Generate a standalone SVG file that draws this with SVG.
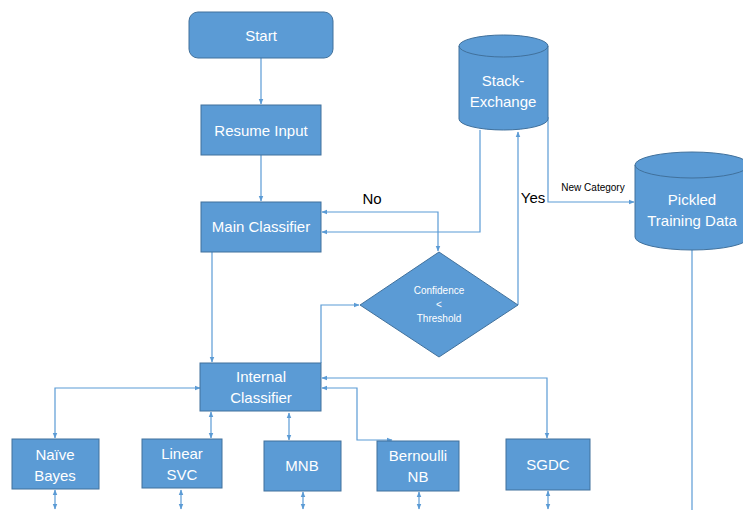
<svg xmlns="http://www.w3.org/2000/svg" width="743" height="510" viewBox="0 0 743 510">
<defs>
<marker id="ah" viewBox="0 0 10 10" refX="9" refY="5" markerWidth="6" markerHeight="6" orient="auto-start-reverse" markerUnits="userSpaceOnUse">
<path d="M0,1 L10,5 L0,9 z" fill="#5B9BD5"/>
</marker>
<style>
.n{fill:#5B9BD5;stroke:#41719C;stroke-width:1}
.rim{fill:none;stroke:#41719C;stroke-width:1}
.t{fill:#fff;font-family:"Liberation Sans",Arial,sans-serif;font-size:15px;text-anchor:middle}
.s{fill:#fff;font-family:"Liberation Sans",Arial,sans-serif;font-size:10px;text-anchor:middle}
.l{fill:#000;font-family:"Liberation Sans",Arial,sans-serif;font-size:15px;text-anchor:middle}
.ls{fill:#000;font-family:"Liberation Sans",Arial,sans-serif;font-size:10px;text-anchor:middle}
.c{fill:none;stroke:#5B9BD5;stroke-width:1.2}
</style>
</defs>
<rect width="743" height="510" fill="#fff"/>
<g id="connectors">
<path class="c" d="M261,58 V104" marker-end="url(#ah)"/>
<path class="c" d="M261,155 V201" marker-end="url(#ah)"/>
<path class="c" d="M322,212 H438 V251" marker-start="url(#ah)" marker-end="url(#ah)"/>
<path class="c" d="M480,130 V232 H322" marker-end="url(#ah)"/>
<path class="c" d="M518,305 V132" marker-end="url(#ah)"/>
<path class="c" d="M548,117 V202 H634" marker-end="url(#ah)"/>
<path class="c" d="M692,250 V510"/>
<path class="c" d="M212,252 V362" marker-end="url(#ah)"/>
<path class="c" d="M321,363 V305 H359" marker-end="url(#ah)"/>
<path class="c" d="M200,388 H55 V438" marker-start="url(#ah)" marker-end="url(#ah)"/>
<path class="c" d="M211,412 V438" marker-start="url(#ah)" marker-end="url(#ah)"/>
<path class="c" d="M289,413 V440" marker-start="url(#ah)" marker-end="url(#ah)"/>
<path class="c" d="M322,388 H357 V440 H392" marker-start="url(#ah)" marker-end="url(#ah)"/>
<path class="c" d="M322,378 H547 V438" marker-start="url(#ah)" marker-end="url(#ah)"/>
<path class="c" d="M55,490 V509" marker-start="url(#ah)" marker-end="url(#ah)"/>
<path class="c" d="M181,490 V509" marker-start="url(#ah)" marker-end="url(#ah)"/>
<path class="c" d="M303,492 V509" marker-start="url(#ah)" marker-end="url(#ah)"/>
<path class="c" d="M419,492 V509" marker-start="url(#ah)" marker-end="url(#ah)"/>
<path class="c" d="M548,491 V509" marker-start="url(#ah)" marker-end="url(#ah)"/>
<text class="l" x="372" y="204">No</text>
<text class="l" x="533" y="203">Yes</text>
<text class="ls" x="593" y="191">New Category</text>
</g>
<g id="start">
<rect class="n" x="189" y="12" width="144" height="46" rx="9"/>
<text class="t" x="261" y="41">Start</text>
</g>
<g id="resume-input">
<rect class="n" x="201" y="105" width="120" height="50"/>
<text class="t" x="261" y="136">Resume Input</text>
</g>
<g id="main-classifier">
<rect class="n" x="201" y="202" width="120" height="50"/>
<text class="t" x="261" y="232">Main Classifier</text>
</g>
<g id="decision">
<path class="n" d="M439,252 L518,305 L439,357 L360,305 Z"/>
<text class="s" x="439" y="294">Confidence</text>
<text class="s" x="439" y="308">&lt;</text>
<text class="s" x="439" y="322">Threshold</text>
</g>
<g id="stack-exchange">
<path class="n" d="M459,46 A44.5,11 0 0 1 548,46 V119 A44.5,11 0 0 1 459,119 Z"/>
<path class="rim" d="M459,46 A44.5,11 0 0 0 548,46"/>
<text class="t" x="503" y="86">Stack-</text>
<text class="t" x="503" y="107">Exchange</text>
</g>
<g id="pickled-training-data">
<path class="n" d="M635,165 A57,13 0 0 1 749,165 V237 A57,13 0 0 1 635,237 Z"/>
<path class="rim" d="M635,165 A57,13 0 0 0 749,165"/>
<text class="t" x="692" y="205">Pickled</text>
<text class="t" x="692" y="226">Training Data</text>
</g>
<g id="internal-classifier">
<rect class="n" x="200" y="363" width="121" height="48"/>
<text class="t" x="261" y="382">Internal</text>
<text class="t" x="261" y="403">Classifier</text>
</g>
<g id="naive-bayes">
<rect class="n" x="12" y="439" width="87" height="50"/>
<text class="t" x="55" y="460">Naïve</text>
<text class="t" x="55" y="481">Bayes</text>
</g>
<g id="linear-svc">
<rect class="n" x="142" y="439" width="80" height="49"/>
<text class="t" x="182" y="459">Linear</text>
<text class="t" x="182" y="480">SVC</text>
</g>
<g id="mnb">
<rect class="n" x="264" y="441" width="77" height="50"/>
<text class="t" x="302" y="471">MNB</text>
</g>
<g id="bernoulli-nb">
<rect class="n" x="377" y="441" width="82" height="50"/>
<text class="t" x="418" y="461">Bernoulli</text>
<text class="t" x="418" y="482">NB</text>
</g>
<g id="sgdc">
<rect class="n" x="506" y="439" width="84" height="51"/>
<text class="t" x="548" y="470">SGDC</text>
</g>
</svg>
